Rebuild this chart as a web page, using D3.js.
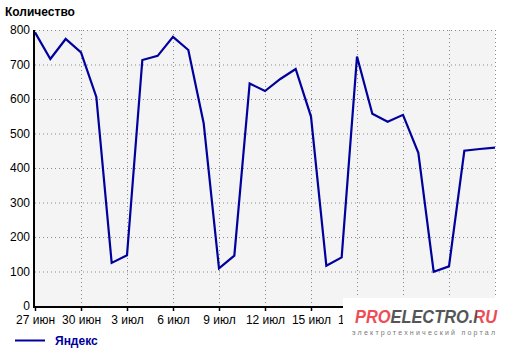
<!DOCTYPE html>
<html>
<head>
<meta charset="utf-8">
<script src="https://cdn.jsdelivr.net/npm/d3@7"></script>
<style>
  body { margin: 0; background: #fff; }
  text { font-family: "Liberation Sans", Arial, sans-serif; }
</style>
</head>
<body>
<svg id="chart" width="520" height="353"></svg>
<script>
// one value per day, 27 jun .. 27 jul
const startDate = new Date(2014, 5, 27)
const values = [793, 716, 774, 735, 606, 125, 147, 713, 725, 780, 742, 530, 109, 146, 645,
  623, 658, 687, 549, 117, 141, 723, 557, 534, 554, 444, 99, 115, 450, 455, 459]
const yTicks = [0, 100, 200, 300, 400, 500, 600, 700, 800]
const monthNames = ['янв', 'фев', 'мар', 'апр', 'мая', 'июн', 'июл', 'авг', 'сен', 'окт', 'ноя', 'дек']
const seriesName = 'Яндекс'
const yTitle = 'Количество'

const data = values.map((v, i) => ({ date: d3.timeDay.offset(startDate, i), value: v }))

const svg = d3.select('#chart')
const margin = { top: 30, right: 25, bottom: 47, left: 35 }
const width = 520 - margin.right
const height = 353 - margin.bottom
const logoLeft = 343

const x = d3.scaleTime()
  .domain([data[0].date, data[data.length - 1].date])
  .range([margin.left, width])

const y = d3.scaleLinear()
  .domain([0, 800])
  .range([height, margin.top])

const xTicks = d3.timeDay.range(data[0].date, d3.timeDay.offset(data[data.length - 1].date, 1), 3)

const defs = svg.append('defs')
defs.append('clipPath')
  .attr('id', 'labelClip')
  .append('rect')
  .attr('x', 0)
  .attr('y', 0)
  .attr('width', logoLeft)
  .attr('height', 353)

// red / grey / red colouring of the watermark word
const logoGrad = defs.append('linearGradient')
  .attr('id', 'logoFill')
  .attr('x1', 0).attr('x2', 1).attr('y1', 0).attr('y2', 0)
;[[0, '#ee4b55'], [0.245, '#ee4b55'], [0.245, '#555'], [0.855, '#555'], [0.855, '#ee4b55'], [1, '#ee4b55']]
  .forEach(s => logoGrad.append('stop').attr('offset', s[0]).attr('stop-color', s[1]))

// plot background
svg.append('rect')
  .attr('x', margin.left)
  .attr('y', margin.top)
  .attr('width', width - margin.left)
  .attr('height', height - margin.top)
  .attr('fill', '#f4f4f4')

// dotted grid
svg.append('g')
  .selectAll('line')
  .data(yTicks.slice(1))
  .enter()
  .append('line')
  .attr('x1', margin.left)
  .attr('x2', width)
  .attr('y1', d => y(d) + 0.5)
  .attr('y2', d => y(d) + 0.5)
  .attr('stroke', '#888')
  .attr('stroke-dasharray', '1,3')

svg.append('g')
  .selectAll('line')
  .data(xTicks.slice(1))
  .enter()
  .append('line')
  .attr('x1', d => Math.round(x(d)) + 0.5)
  .attr('x2', d => Math.round(x(d)) + 0.5)
  .attr('y1', margin.top)
  .attr('y2', height)
  .attr('stroke', '#888')
  .attr('stroke-dasharray', '1,3')

// the line
const line = d3.line()
  .x(d => x(d.date))
  .y(d => y(d.value))

svg.append('path')
  .datum(data)
  .attr('d', line)
  .attr('fill', 'none')
  .attr('stroke', '#00009c')
  .attr('stroke-width', 2.2)

// axes
const yAxis = d3.axisLeft(y).tickValues(yTicks).tickSize(0).tickPadding(5)
svg.append('g')
  .attr('transform', `translate(${margin.left}, 0)`)
  .call(yAxis)
  .call(g => g.select('.domain').remove())
  .call(g => g.selectAll('text').attr('font-size', 12).attr('fill', '#000'))

// labels that sit under the watermark are left empty, 18 jul is cut by it
const xAxis = d3.axisBottom(x)
  .tickValues(xTicks)
  .tickSize(4)
  .tickPadding(4)
  .tickFormat(d => x(d) - 20 > logoLeft ? '' : `${d.getDate()} ${monthNames[d.getMonth()]}`)
svg.append('g')
  .attr('transform', `translate(0, ${height + 1})`)
  .attr('clip-path', 'url(#labelClip)')
  .call(xAxis)
  .call(g => g.select('.domain').remove())
  .call(g => g.selectAll('.tick line').attr('stroke', '#000').attr('stroke-width', 1.5))
  .call(g => g.selectAll('text').attr('font-size', 12).attr('fill', '#000'))

svg.append('line')
  .attr('x1', margin.left - 1)
  .attr('x2', margin.left - 1)
  .attr('y1', margin.top)
  .attr('y2', height + 2)
  .attr('stroke', '#000')
  .attr('stroke-width', 2)

svg.append('line')
  .attr('x1', margin.left - 2)
  .attr('x2', width)
  .attr('y1', height + 1)
  .attr('y2', height + 1)
  .attr('stroke', '#000')
  .attr('stroke-width', 2)

// title
svg.append('text')
  .text(yTitle)
  .attr('x', 5)
  .attr('y', 16)
  .attr('font-size', 12)
  .attr('font-weight', 'bold')

// legend
svg.append('line')
  .attr('x1', 15)
  .attr('x2', 45)
  .attr('y1', 340.5)
  .attr('y2', 340.5)
  .attr('stroke', '#00009c')
  .attr('stroke-width', 2)

svg.append('text')
  .text(seriesName)
  .attr('x', 55)
  .attr('y', 345)
  .attr('font-size', 12)
  .attr('font-weight', 'bold')
  .attr('fill', '#00009c')

// watermark
const logo = svg.append('g')
logo.append('rect')
  .attr('x', logoLeft)
  .attr('y', 298)
  .attr('width', 520 - logoLeft)
  .attr('height', 55)
  .attr('fill', '#fff')

logo.append('text')
  .text('PROELECTRO.RU')
  .attr('x', 355)
  .attr('y', 323)
  .attr('font-size', 18)
  .attr('font-weight', 'bold')
  .attr('font-style', 'italic')
  .attr('fill', 'url(#logoFill)')
  .attr('textLength', 142)
  .attr('lengthAdjust', 'spacingAndGlyphs')

logo.append('text')
  .text('электротехнический портал')
  .attr('x', 352)
  .attr('y', 335)
  .attr('font-size', 7)
  .attr('fill', '#777')
  .attr('textLength', 143)
  .attr('lengthAdjust', 'spacing')
</script>
</body>
</html>
